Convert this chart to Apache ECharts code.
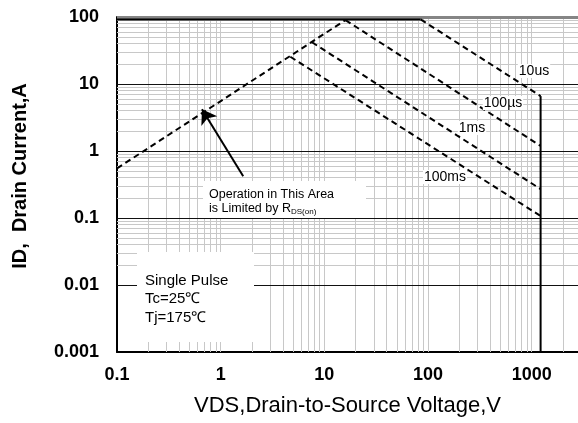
<!DOCTYPE html>
<html>
<head>
<meta charset="utf-8">
<script src="https://cdn.jsdelivr.net/npm/echarts@6/dist/echarts.min.js"></script>
<style>
html,body{margin:0;padding:0;background:#fff;}
#chart{width:578px;height:423px;}
</style>
</head>
<body>
<div id="chart"></div>
<script>
// ---- Data ----
const xTickLabels = ['0.1', '1', '10', '100', '1000'];
const yTickLabels = ['0.001', '0.01', '0.1', '1', '10', '100'];
const xMin = 0.1, xMax = 2800;
const yMin = 0.001, yMax = 100;

const rdsLimit   = [[0.1, 0.55], [16, 90]];
const idLimit    = [[0.1, 92], [85, 92]];
const pulse10us  = [[85, 92], [1220, 6.6]];
const pulse100us = [[16, 90], [1220, 1.19]];
const pulse1ms   = [[7.6, 42], [1220, 0.27]];
const pulse100ms = [[4.7, 25.5], [1220, 0.107]];
const vdsLimit   = [[1220, 6.6], [1220, 0.001]];

const curveLabels = ['10us', '100µs', '1ms', '100ms'];
const arrowFrom = [1.65, 0.42];
const arrowTo = [0.66, 4.2];

// grid line positions
const xDecades = [0.1, 1, 10, 100, 1000];
const yDecades = [0.001, 0.01, 0.1, 1, 10];
const mults = [1, 2, 3, 4, 5, 6, 7, 8, 9];

// ---- Build ----
const FONT = '"Liberation Sans", Arial, sans-serif';
const gridMarks = [];
xDecades.forEach(d => mults.forEach(m => {
  const v = d * m;
  if (v > xMin * 1.0001 && v < xMax) gridMarks.push({xAxis: v, lineStyle: {color: '#c8c8c8', width: 1, type: 'solid'}});
}));
yDecades.forEach(d => mults.forEach(m => {
  const v = d * m;
  if (v > yMin * 1.0001 && v < yMax * 0.9999) {
    gridMarks.push({yAxis: v, lineStyle: m === 1 ? {color: '#111', width: 1, type: 'solid'} : {color: '#c8c8c8', width: 1, type: 'solid'}});
  }
}));
gridMarks.push({yAxis: yMax, lineStyle: {color: '#858585', width: 3, type: 'solid'}});

function labelFor(v, labels) {
  const l = Math.log10(v);
  const e = Math.round(l);
  if (Math.abs(l - e) > 1e-6) return '';
  const s = labels.find(t => Math.abs(Math.log10(parseFloat(t)) - e) < 1e-6);
  return s || '';
}

function dashed(data) {
  return {type: 'line', data: data, symbol: 'none', silent: true, z: 5, animation: false,
    lineStyle: {color: '#000', width: 2, type: [6, 4]}};
}
function solid(data) {
  return {type: 'line', data: data, symbol: 'none', silent: true, z: 5, animation: false,
    lineStyle: {color: '#000', width: 2, type: 'solid'}};
}

const chart = echarts.init(document.getElementById('chart'), null, {renderer: 'canvas'});
chart.setOption({
  backgroundColor: '#fff',
  animation: false,
  grid: {left: 117, right: 0, top: 17, bottom: 71},
  xAxis: {
    type: 'log', logBase: 10, min: xMin, max: xMax,
    axisLine: {show: true, onZero: false, lineStyle: {color: '#000', width: 2}},
    axisTick: {show: false},
    splitLine: {show: false},
    axisLabel: {margin: 14, fontFamily: FONT, fontWeight: 'bold', fontSize: 18, color: '#000',
      formatter: v => labelFor(v, xTickLabels), showMaxLabel: false},
    name: 'VDS,Drain-to-Source Voltage,V', nameLocation: 'middle', nameGap: 43,
    nameTextStyle: {fontFamily: FONT, fontSize: 22, color: '#000'}
  },
  yAxis: {
    type: 'log', logBase: 10, min: yMin, max: yMax,
    axisLine: {show: true, onZero: false, lineStyle: {color: '#000', width: 2}},
    axisTick: {show: false},
    splitLine: {show: false},
    axisLabel: {margin: 18, fontFamily: FONT, fontWeight: 'bold', fontSize: 18, color: '#000',
      formatter: v => labelFor(v, yTickLabels)}
  },
  series: [
    {type: 'line', data: [], silent: true, z: 1, animation: false,
      markLine: {silent: true, symbol: 'none', label: {show: false}, animation: false, data: gridMarks}},
    dashed(rdsLimit),
    solid(idLimit),
    dashed(pulse10us),
    dashed(pulse100us),
    dashed(pulse1ms),
    dashed(pulse100ms),
    solid(vdsLimit),
    {type: 'line', data: [], silent: true, z: 6, animation: false,
      markLine: {silent: true, symbol: ['none', 'arrow'], symbolSize: 14, label: {show: false}, animation: false,
        lineStyle: {color: '#000', width: 2, type: 'solid'},
        data: [[{coord: arrowFrom}, {coord: arrowTo}]]}}
  ],
  graphic: [
    {type: 'text', z: 100, x: 20, y: 176, rotation: Math.PI / 2,
      style: {text: 'ID,  Drain Current,A', font: 'bold 20px ' + FONT, fill: '#000', align: 'center', verticalAlign: 'middle'}},
    {type: 'rect', z: 100, shape: {x: 137, y: 252, width: 117, height: 90}, style: {fill: '#fff'}},
    {type: 'text', z: 101, x: 145, y: 281, style: {text: 'Single Pulse', font: '15px ' + FONT, fill: '#000', verticalAlign: 'middle'}},
    {type: 'text', z: 101, x: 145, y: 299, style: {text: 'Tc=25℃', font: '15px ' + FONT, fill: '#000', verticalAlign: 'middle'}},
    {type: 'text', z: 101, x: 145, y: 318, style: {text: 'Tj=175℃', font: '15px ' + FONT, fill: '#000', verticalAlign: 'middle'}},
    {type: 'rect', z: 100, shape: {x: 203, y: 181, width: 163, height: 37}, style: {fill: '#fff'}},
    {type: 'text', z: 101, x: 209, y: 195, style: {text: 'Operation in This Area', font: '12.5px ' + FONT, fill: '#000', verticalAlign: 'middle'}},
    {type: 'text', z: 101, x: 209, y: 209, style: {
      text: 'is Limited by R{s|DS(on)}', font: '12.5px ' + FONT, fill: '#000', verticalAlign: 'middle',
      rich: {s: {fontSize: 8, fontFamily: FONT, padding: [6, 0, 0, 0]}}}},
    {type: 'text', z: 101, x: 534, y: 71, style: {text: curveLabels[0], font: '14px ' + FONT, fill: '#000', align: 'center', verticalAlign: 'middle', backgroundColor: '#fff', padding: [0, 1]}},
    {type: 'text', z: 101, x: 503, y: 103, style: {text: curveLabels[1], font: '14px ' + FONT, fill: '#000', align: 'center', verticalAlign: 'middle', backgroundColor: '#fff', padding: [0, 1]}},
    {type: 'text', z: 101, x: 472, y: 128, style: {text: curveLabels[2], font: '14px ' + FONT, fill: '#000', align: 'center', verticalAlign: 'middle', backgroundColor: '#fff', padding: [0, 1]}},
    {type: 'text', z: 101, x: 445, y: 177, style: {text: curveLabels[3], font: '14px ' + FONT, fill: '#000', align: 'center', verticalAlign: 'middle', backgroundColor: '#fff', padding: [0, 1]}}
  ]
});
</script>
</body>
</html>
